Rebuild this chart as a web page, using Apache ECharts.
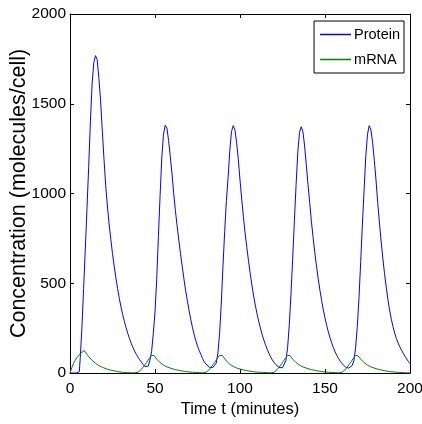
<!DOCTYPE html>
<html>
<head>
<meta charset="utf-8">
<script src="https://cdn.jsdelivr.net/npm/echarts@6/dist/echarts.min.js"></script>
<style>
  html, body { margin: 0; padding: 0; background: #fff; }
  #root { width: 422px; height: 424px; }
</style>
</head>
<body>
<div id="root"></div>
<script>
// [time (minutes), molecules/cell]
var protein = [
  [0,0],[2,0],[4,0],[5,1],[5.5,8],[6,80],[7,250],[8,470],[9,690],[10,920],
  [11,1150],[12,1400],[13,1610],[14,1730],[15,1768],[16,1745],[17,1640],[18,1515],[19,1350],[20,1190],
  [21,1045],[22,930],[23,830],[24,745],[25,665],[26,595],[27,530],[28,470],[29,415],[30,368],
  [31,325],[32,287],[33,252],[34,220],[35,192],[36,166],[37,143],[38,122],[39,104],[40,88],
  [41,74],[42,61],[43,48],[44,36],[45,30],[46,38],[47,70],[48,120],[49,220],[50,340],
  [51,520],[52,760],[53,990],[54,1200],[55,1330],[56,1380],[56.5,1387],[57,1365],[58,1295],[59,1205],[60,1110],
  [61,1000],[62,905],[63,820],[64,740],[65,665],[66,595],[67,525],[68,460],[69,405],[70,350],
  [71,300],[72,255],[73,215],[74,180],[75,150],[76,125],[77,103],[78,80],[79,62],[80,50],
  [81,40],[82,32],[83,27],[84,30],[85,40],[86,55],[87,110],[88,220],[89,390],[90,600],
  [91,790],[92,960],[93,1090],[94,1240],[95,1345],[96,1378],[97,1355],[98,1285],[99,1190],[100,1075],
  [101,970],[102,870],[103,780],[104,700],[105,625],[106,555],[107,490],[108,430],[109,378],[110,330],
  [111,288],[112,250],[113,215],[114,184],[115,157],[116,132],[117,110],[118,90],[119,73],[120,59],
  [121,47],[122,38],[123,31],[124,27],[125,29],[126,40],[127,70],[128,140],[129,270],[130,440],
  [131,640],[132,850],[133,1050],[134,1230],[135,1340],[136,1372],[137,1345],[138,1265],[139,1160],[140,1050],
  [141,950],[142,845],[143,755],[144,670],[145,595],[146,525],[147,462],[148,405],[149,352],[150,306],
  [151,265],[152,228],[153,195],[154,166],[155,140],[156,117],[157,97],[158,80],[159,65],[160,52],
  [161,42],[162,34],[163,28],[164,27],[165,30],[166,42],[167,70],[168,140],[169,260],[170,420],
  [171,620],[172,830],[173,1020],[174,1210],[175,1330],[176,1378],[177,1355],[178,1285],[179,1185],[180,1075],
  [181,950],[182,840],[183,735],[184,640],[185,555],[186,480],[187,410],[188,350],[189,300],[190,258],
  [191,222],[192,192],[193,167],[194,146],[195,127],[196,110],[197,94],[198,79],[199,65],[200,52]
];

var mrna = [
  [0,0],[1,28],[2,52],[3,70],[4,85],[5,97],[6,107],[7,116],[8,123],[8.5,125],
  [9,118],[10,104],[11,91],[12,80],[13,70],[14,61],[15,54],[16,47],[17,41],[18,36],
  [19,32],[20,28],[22,21],[24,16],[26,12],[28,8],[30,5],[32,3],[34,2],[36,1],
  [38,1],[39,2],[40,4],[41,8],[42,20],[43,32],[44,45],[45,58],[46,72],[47,86],
  [48,98],[48.7,104],[49.5,97],[50,90],[51,77],[52,66],[53,58],[54,50],[55,44],[56,38],
  [57,34],[58,30],[60,24],[62,19],[64,15],[66,11],[68,8],[70,6],[72,4],[74,3],
  [76,2],[78,1],[79,2],[80,4],[81,8],[82,20],[83,32],[84,45],[85,58],[86,72],
  [87,86],[88,98],[88.8,105],[89.6,98],[90,92],[91,79],[92,67],[93,57],[94,49],[95,43],
  [96,37],[97,32],[98,28],[100,22],[102,17],[104,13],[106,10],[108,7],[110,5],[112,4],
  [114,3],[116,2],[118,1],[119,2],[120,4],[121,8],[122,20],[123,32],[124,45],[125,58],
  [126,72],[127,86],[128,98],[128.6,104],[129.4,97],[130,90],[131,77],[132,66],[133,58],[134,50],
  [135,44],[136,38],[137,34],[138,30],[140,24],[142,19],[144,15],[146,11],[148,8],[150,6],
  [152,4],[154,3],[156,2],[158,1],[159,2],[160,4],[161,8],[162,20],[163,32],[164,45],
  [165,58],[166,72],[167,86],[168,98],[168.6,103],[169.4,96],[170,90],[171,77],[172,66],[173,58],
  [174,50],[175,44],[176,38],[177,34],[178,30],[180,24],[182,19],[184,15],[186,11],[188,8],
  [190,6],[192,4],[194,3],[196,2],[198,1],[200,1]
];

var seriesNames = ['Protein', 'mRNA'];
var seriesColors = ['#0000ff', '#008000'];
var xTitle = 'Time t (minutes)';
var yTitle = 'Concentration (molecules/cell)';

var FONT = "'Liberation Sans', Arial, Helvetica, sans-serif";

var chart = echarts.init(document.getElementById('root'), null, { renderer: 'canvas' });

var boxLine = { show: true, onZero: false, lineStyle: { color: '#000', width: 1 } };
var inTicks = { show: true, inside: true, length: 4, lineStyle: { color: '#000', width: 1 } };
var plain = function (v) { return String(v); };

chart.setOption({
  animation: false,
  backgroundColor: '#fff',
  grid: { left: 70, right: 12, top: 14, bottom: 51, containLabel: false, outerBoundsMode: 'none' },
  legend: {
    data: seriesNames,
    orient: 'vertical',
    right: 18,
    top: 21,
    backgroundColor: '#fff',
    borderColor: '#000',
    borderWidth: 1,
    borderRadius: 0,
    padding: [6, 4, 6, 6],
    itemGap: 10,
    itemWidth: 31,
    itemHeight: 1.5,
    icon: 'rect',
    textStyle: { fontFamily: FONT, fontSize: 14.5, color: '#000', padding: [0, 0, 0, -2] }
  },
  xAxis: [
    {
      type: 'value', min: 0, max: 200, interval: 50,
      name: xTitle, nameLocation: 'middle', nameGap: 28, nameMoveOverlap: false,
      nameTextStyle: { fontFamily: FONT, fontSize: 16.5, color: '#000' },
      axisLine: boxLine, axisTick: inTicks,
      axisLabel: { fontFamily: FONT, fontSize: 15.5, color: '#000', margin: 8, formatter: plain },
      splitLine: { show: false }
    },
    {
      type: 'value', min: 0, max: 200, interval: 50, position: 'top',
      axisLine: boxLine, axisTick: inTicks,
      axisLabel: { show: false }, splitLine: { show: false }
    }
  ],
  yAxis: [
    {
      type: 'value', min: 0, max: 2000, interval: 500,
      name: yTitle, nameLocation: 'middle', nameGap: 40, nameMoveOverlap: false,
      nameTextStyle: { fontFamily: FONT, fontSize: 21.5, color: '#000' },
      axisLine: boxLine, axisTick: inTicks,
      axisLabel: { fontFamily: FONT, fontSize: 15.5, color: '#000', margin: 4, formatter: plain },
      splitLine: { show: false }
    },
    {
      type: 'value', min: 0, max: 2000, interval: 500, position: 'right',
      axisLine: boxLine, axisTick: inTicks,
      axisLabel: { show: false }, splitLine: { show: false }
    }
  ],
  series: [
    {
      name: seriesNames[0], type: 'line', data: protein,
      showSymbol: false, symbol: 'none',
      lineStyle: { color: seriesColors[0], width: 1 },
      itemStyle: { color: seriesColors[0] }
    },
    {
      name: seriesNames[1], type: 'line', data: mrna,
      showSymbol: false, symbol: 'none',
      lineStyle: { color: seriesColors[1], width: 1 },
      itemStyle: { color: seriesColors[1] }
    }
  ]
});
</script>
</body>
</html>
